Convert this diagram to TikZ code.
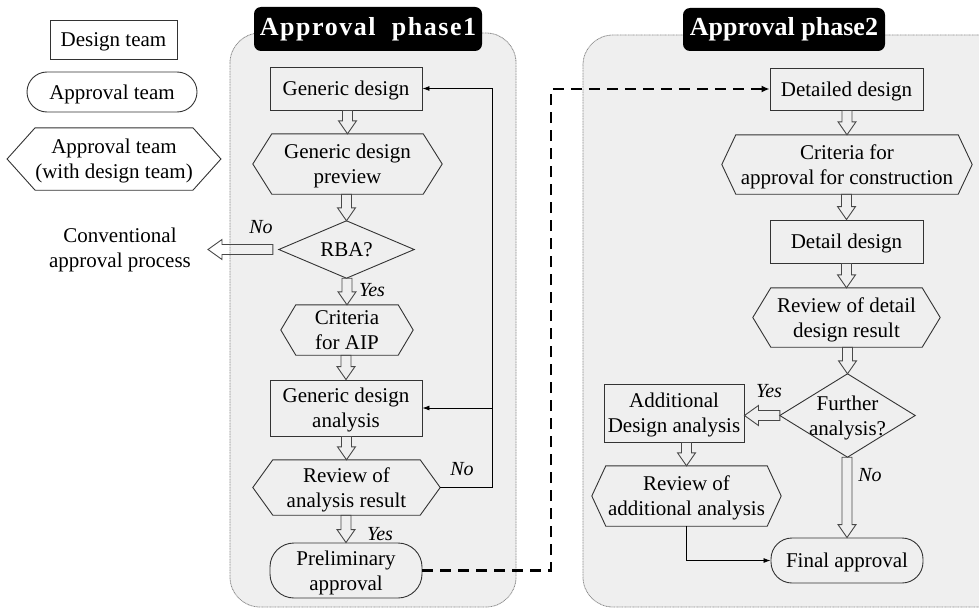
\documentclass[tikz,border=0pt]{standalone}
\usepackage{fontspec}
\setmainfont{Liberation Serif}
\usetikzlibrary{arrows.meta,calc}

\definecolor{panelfill}{HTML}{EFEFEF}
\definecolor{paneledge}{HTML}{8A8A8A}
\definecolor{lineclr}{HTML}{333333}
\definecolor{hollowclr}{HTML}{484848}

% hollow block arrow going straight down, on the x of the target
\newcommand{\hollowdown}[2]{%
  \draw[hollow] let \p1=(#1), \p2=(#2) in
    (\x2-5pt,\y1) -- (\x2+5pt,\y1) -- (\x2+5pt,\y2+13pt) -- (\x2+9pt,\y2+13pt)
    -- (\x2,\y2) -- (\x2-9pt,\y2+13pt) -- (\x2-5pt,\y2+13pt) -- cycle;}
% hollow block arrow going straight left, on the y of the source
\newcommand{\hollowleft}[2]{%
  \draw[hollow] let \p1=(#1), \p2=(#2) in
    (\x1,\y1-5pt) -- (\x1,\y1+5pt) -- (\x2+14pt,\y1+5pt) -- (\x2+14pt,\y1+10pt)
    -- (\x2,\y1) -- (\x2+14pt,\y1-10pt) -- (\x2+14pt,\y1-5pt) -- cycle;}
% hexagon outline around the flat part of a node
\newcommand{\hexframe}[2]{%
  \draw[outline] (#1.north west) -- (#1.north east) -- ([xshift=#2]#1.east)
    -- (#1.south east) -- (#1.south west) -- ([xshift=-#2]#1.west) -- cycle;}
% decision diamond outline
\newcommand{\diamondframe}[1]{%
  \draw[outline] (#1.north) -- (#1.east) -- (#1.south) -- (#1.west) -- cycle;}

\tikzset{
  txt/.style={font=\fontsize{21}{25}\selectfont, align=center, inner sep=0pt,
              text depth=0pt},
  outline/.style={draw=lineclr, line width=0.9pt},
  box/.style={txt, outline, rectangle},
  pill/.style={txt, outline, rectangle},
  flat/.style={txt, rectangle},
  answer/.style={font=\fontsize{20}{24}\selectfont\itshape, inner sep=0pt},
  hollow/.style={draw=hollowclr, line width=0.9pt, line join=miter},
  panel/.style={fill=panelfill, draw=paneledge, line width=0.8pt,
                dash pattern=on 1pt off 0.6pt, rounded corners=30pt},
  titlebox/.style={fill=black, text=white, rounded corners=7pt, inner sep=0pt,
                   font=\fontsize{26}{30}\selectfont\bfseries},
  thinarrow/.style={draw=black, line width=0.8pt,
                    -{Latex[length=7pt,width=5pt]}},
  dasharrow/.style={draw=black, line width=2.6pt, dash pattern=on 11pt off 7pt,
                    -{Latex[length=8pt,width=7pt]}}
}

\begin{document}
\begin{tikzpicture}[x=1pt, y=-1pt]
\useasboundingbox (0,0) rectangle (979,610);

% ---- phase panels ----
\path[panel] (230,33) rectangle (516,607);
\path[panel] (583,35) rectangle (1010,607);
\node[titlebox, minimum width=228pt, minimum height=44pt] (t1) at (368,29)
  {\addfontfeature{LetterSpace=6}Approval\ \ phase1};
\node[titlebox, minimum width=202pt, minimum height=43pt] (t2) at (784,29.5)
  {Approval phase2};

% ---- legend ----
\node[box, minimum width=127pt, minimum height=39pt] (lgD) at (113.5,39.5) {Design team};
\node[pill, rounded corners=20pt, minimum width=170pt, minimum height=40pt] (lgA) at (112,92) {Approval team};
\node[flat, minimum width=156pt, minimum height=62pt] (lgH) at (114,159) {Approval team\\(with design team)};
\hexframe{lgH}{28pt}
\node[txt] (conv) at (120,247.5) {Conventional\\approval process};
\coordinate (convtip) at (208,249);

% ---- approval phase 1 ----
\node[box, minimum width=152pt, minimum height=43pt] (gd) at (346,88.5) {Generic design};
\node[flat, minimum width=151pt, minimum height=60pt] (gdp) at (347.5,164) {Generic design\\preview};
\hexframe{gdp}{19pt}
\node[flat, minimum width=135pt, minimum height=57pt] (rba) at (346.5,249.5) {RBA?};
\diamondframe{rba}
\node[flat, minimum width=102pt, minimum height=50pt] (crit) at (347,330) {Criteria\\for AIP};
\hexframe{crit}{15pt}
\node[box, minimum width=152pt, minimum height=56pt] (gda) at (346,408) {Generic design\\analysis};
\node[flat, minimum width=147pt, minimum height=55pt] (rar) at (346.5,487.5) {Review of\\analysis result};
\hexframe{rar}{20pt}
\node[pill, rounded corners=24pt, minimum width=152pt, minimum height=55pt] (pa) at (346,570.5) {Preliminary\\approval};

\hollowdown{gd.south}{gdp.north}
\hollowdown{gdp.south}{rba.north}
\hollowdown{rba.south}{crit.north}
\hollowdown{crit.south}{gda.north}
\hollowdown{gda.south}{rar.north}
\hollowdown{rar.south}{pa.north}
\hollowleft{[xshift=-6pt]rba.west}{convtip}

% feedback from the analysis review
\coordinate (fbx) at (492,0);
\draw[thinarrow] ([xshift=20pt]rar.east) -| (fbx |- gd.east) -- (gd.east);
\draw[thinarrow] (fbx |- gda.east) -- (gda.east);

\node[answer] (no1) at (261,227) {No};
\node[answer] (yes1) at (372,290) {Yes};
\node[answer] (no2) at (462,469) {No};
\node[answer] (yes2) at (380,534) {Yes};

% ---- approval phase 2 ----
\node[box, minimum width=153pt, minimum height=42pt] (dd) at (846.5,89) {Detailed design};
\node[flat, minimum width=222pt, minimum height=59pt] (cac) at (847,164.5) {Criteria for\\approval for construction};
\hexframe{cac}{14pt}
\node[box, minimum width=153pt, minimum height=43pt] (det) at (846.5,241.5) {Detail design};
\node[flat, minimum width=151pt, minimum height=59pt] (rdd) at (846.5,317.5) {Review of detail\\design result};
\hexframe{rdd}{18pt}
\node[flat, minimum width=135pt, minimum height=83pt] (fan) at (847.5,415.5) {Further\\analysis?};
\diamondframe{fan}
\node[box, minimum width=140pt, minimum height=58pt] (ada) at (674,413) {Additional\\Design analysis};
\node[flat, minimum width=161pt, minimum height=60pt] (rad) at (686.5,496) {Review of\\additional analysis};
\hexframe{rad}{14pt}
\node[pill, rounded corners=21pt, minimum width=152pt, minimum height=45pt] (fin) at (847,560.5) {Final approval};

\hollowdown{dd.south}{cac.north}
\hollowdown{cac.south}{det.north}
\hollowdown{det.south}{rdd.north}
\hollowdown{rdd.south}{fan.north}
\hollowdown{ada.south}{rad.north}
\hollowdown{fan.south}{fin.north}
\hollowleft{fan.west}{ada.east}

\draw[thinarrow] (rad.south) |- (fin.west);

\node[answer] (yes3) at (769,391) {Yes};
\node[answer] (no3) at (870,475) {No};

% ---- hand-over between the phases ----
\coordinate (dashx) at (551,0);
\draw[dasharrow] (pa.east) -| (dashx |- dd.west) -- (dd.west);
\end{tikzpicture}
\end{document}
